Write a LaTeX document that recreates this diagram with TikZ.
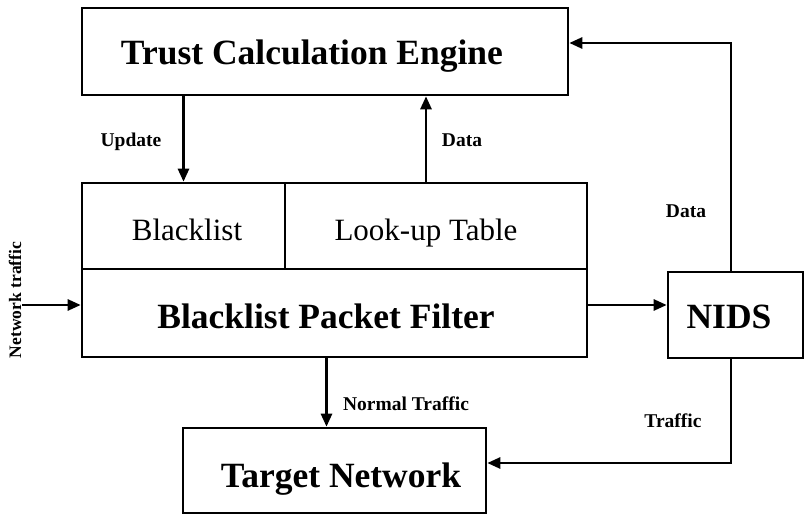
\documentclass[tikz,border=0pt]{standalone}
\usepackage{fontspec}
\setmainfont{Liberation Serif}
\usetikzlibrary{arrows.meta}
\begin{document}
\begin{tikzpicture}[x=1pt,y=-1pt,
  box/.style={draw,line width=2.6pt,inner sep=0pt},
  big/.style={font=\bfseries\fontsize{35.5}{38}\selectfont,inner sep=0pt,anchor=base},
  reg/.style={font=\fontsize{31}{34}\selectfont,inner sep=0pt,anchor=base},
  arr/.style={line width=2.6pt,-{Triangle[length=13pt,width=11pt]}},
  lbl/.style={font=\bfseries\fontsize{19.5}{22}\selectfont,inner sep=0pt,anchor=base}]
\useasboundingbox (0,0) rectangle (805,516);
\node[box,minimum width=486pt,minimum height=87pt] (trust) at (325,51.5) {};
\node[box,minimum width=203pt,minimum height=86pt] (bl) at (183.5,226) {};
\node[box,minimum width=302pt,minimum height=86pt] (lut) at (436,226) {};
\node[box,minimum width=505pt,minimum height=88pt] (bpf) at (334.5,313) {};
\node[box,minimum width=135pt,minimum height=86pt] (nids) at (735.5,315) {};
\node[box,minimum width=303pt,minimum height=85pt] (target) at (334.5,470.5) {};
\node[big] (ttrust) at (312,65) {Trust Calculation Engine};
\node[reg] (tbl) at (187,240) {Blacklist};
\node[reg] (tlut) at (426,240) {Look-up Table};
\node[big] (tbpf) at (326,328) {Blacklist Packet Filter};
\node[big] (tnids) at (729,328) {NIDS};
\node[big] (ttarget) at (341,487) {Target Network};
\coordinate (ntin) at (22,305);
\draw[arr] (trust.south -| bl) -- (bl.north);
\draw[arr] ([xshift=-10pt]lut.north) -- ([xshift=-10pt]lut.north |- trust.south);
\draw[arr] ([xshift=-4.5pt]nids.north) |- ([yshift=8.5pt]trust.east);
\draw[arr] (ntin) -- (ntin -| bpf.west);
\draw[arr] ([yshift=8pt]bpf.east) -- ([yshift=8pt]bpf.east -| nids.west);
\draw[arr] ([xshift=-8pt]bpf.south) -- ([xshift=-8pt]bpf.south |- target.north);
\draw[arr] ([xshift=-4.5pt]nids.south) |- ([yshift=7.5pt]target.east);
\node[lbl] (lupd) at (131,146.5) {Update};
\node[lbl] (ldata1) at (462,146.5) {Data};
\node[lbl] (ldata2) at (686,217) {Data};
\node[lbl] (lnorm) at (406,410) {Normal Traffic};
\node[lbl] (ltraf) at (673,427) {Traffic};
\node[rotate=90,inner sep=0pt,font=\bfseries\fontsize{17.5}{20}\selectfont] (lnet) at (15,300) {Network traffic};
\end{tikzpicture}
\end{document}
